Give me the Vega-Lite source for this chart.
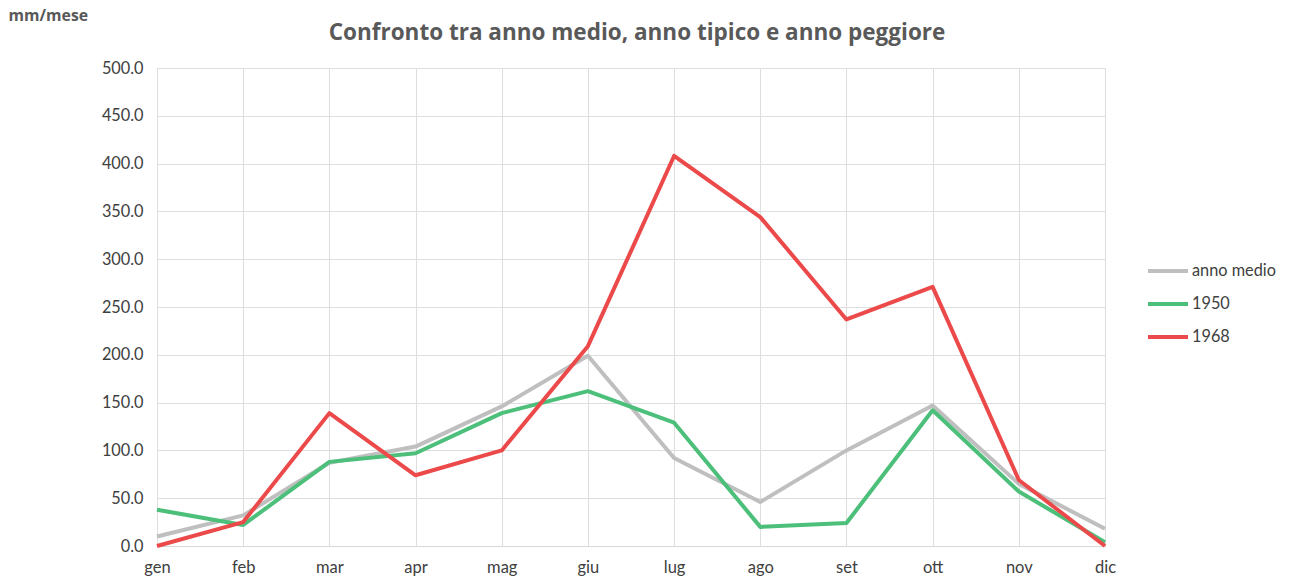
{
  "$schema": "https://vega.github.io/schema/vega-lite/v6.json",
  "autosize": "none",
  "padding": {"left": 157, "top": 68, "right": 185, "bottom": 35},
  "width": 948,
  "height": 478,
  "background": "white",
  "title": {
    "text": "Confronto tra anno medio, anno tipico e anno peggiore",
    "font": "Open Sans",
    "fontSize": 22.5,
    "fontWeight": "bold",
    "color": "#595959",
    "anchor": "middle",
    "baseline": "alphabetic",
    "dx": 6,
    "offset": -55
  },
  "data": {
    "values": [
      {"mese": "gen", "serie": "anno medio", "mm": 10},
      {"mese": "feb", "serie": "anno medio", "mm": 32},
      {"mese": "mar", "serie": "anno medio", "mm": 87},
      {"mese": "apr", "serie": "anno medio", "mm": 104},
      {"mese": "mag", "serie": "anno medio", "mm": 146},
      {"mese": "giu", "serie": "anno medio", "mm": 199},
      {"mese": "lug", "serie": "anno medio", "mm": 92},
      {"mese": "ago", "serie": "anno medio", "mm": 46},
      {"mese": "set", "serie": "anno medio", "mm": 100},
      {"mese": "ott", "serie": "anno medio", "mm": 147},
      {"mese": "nov", "serie": "anno medio", "mm": 65},
      {"mese": "dic", "serie": "anno medio", "mm": 18},
      {"mese": "gen", "serie": "1950", "mm": 38},
      {"mese": "feb", "serie": "1950", "mm": 22},
      {"mese": "mar", "serie": "1950", "mm": 88},
      {"mese": "apr", "serie": "1950", "mm": 97},
      {"mese": "mag", "serie": "1950", "mm": 139},
      {"mese": "giu", "serie": "1950", "mm": 162},
      {"mese": "lug", "serie": "1950", "mm": 129},
      {"mese": "ago", "serie": "1950", "mm": 20},
      {"mese": "set", "serie": "1950", "mm": 24},
      {"mese": "ott", "serie": "1950", "mm": 142},
      {"mese": "nov", "serie": "1950", "mm": 57},
      {"mese": "dic", "serie": "1950", "mm": 4},
      {"mese": "gen", "serie": "1968", "mm": 0},
      {"mese": "feb", "serie": "1968", "mm": 25},
      {"mese": "mar", "serie": "1968", "mm": 139},
      {"mese": "apr", "serie": "1968", "mm": 74},
      {"mese": "mag", "serie": "1968", "mm": 100},
      {"mese": "giu", "serie": "1968", "mm": 209},
      {"mese": "lug", "serie": "1968", "mm": 408},
      {"mese": "ago", "serie": "1968", "mm": 344},
      {"mese": "set", "serie": "1968", "mm": 237},
      {"mese": "ott", "serie": "1968", "mm": 271},
      {"mese": "nov", "serie": "1968", "mm": 69},
      {"mese": "dic", "serie": "1968", "mm": 0}
    ]
  },
  "mark": {"type": "line", "strokeWidth": 4, "strokeJoin": "round"},
  "encoding": {
    "x": {
      "field": "mese",
      "type": "ordinal",
      "sort": ["gen","feb","mar","apr","mag","giu","lug","ago","set","ott","nov","dic"],
      "scale": {"type": "point", "padding": 0},
      "axis": {
        "title": null,
        "labelAngle": 0,
        "labelFont": "Lato",
        "labelFontSize": 16.5,
        "labelColor": "#404040",
        "labelPadding": 13,
        "ticks": false,
        "domain": true,
        "domainColor": "#d9d9d9",
        "grid": true,
        "gridColor": "#dedede"
      }
    },
    "y": {
      "field": "mm",
      "type": "quantitative",
      "scale": {"domain": [0, 500], "nice": false},
      "axis": {
        "values": [0,50,100,150,200,250,300,350,400,450,500],
        "format": ".1f",
        "title": "mm/mese",
        "titleAngle": 0,
        "titleAlign": "left",
        "titleBaseline": "middle",
        "titleX": -149,
        "titleY": -53,
        "titleFont": "Open Sans",
        "titleFontSize": 15.8,
        "titleFontWeight": "bold",
        "titleColor": "#595959",
        "labelFont": "Lato",
        "labelFontSize": 16.3,
        "labelColor": "#404040",
        "labelPadding": 14,
        "ticks": false,
        "domain": false,
        "grid": true,
        "gridColor": "#dedede"
      }
    },
    "color": {
      "field": "serie",
      "type": "nominal",
      "sort": ["anno medio", "1950", "1968"],
      "scale": {
        "domain": ["anno medio", "1950", "1968"],
        "range": ["#bfbfbf", "#4cbf7a", "#ec4a4a"]
      },
      "legend": {
        "title": null,
        "orient": "none",
        "legendX": 989,
        "legendY": 181,
        "symbolType": "stroke",
        "symbolSize": 1600,
        "symbolStrokeWidth": 4,
        "labelFont": "Lato",
        "labelFontSize": 16.3,
        "labelColor": "#404040",
        "labelOffset": 2,
        "rowPadding": 2
      }
    }
  }
}
